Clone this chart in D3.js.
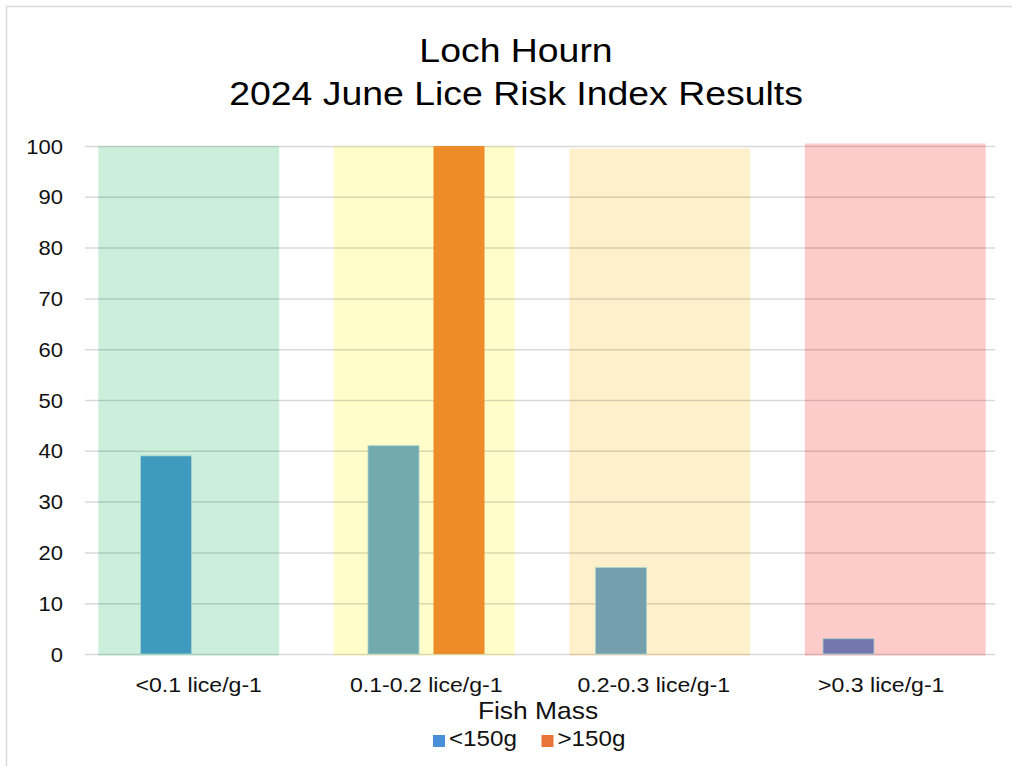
<!DOCTYPE html>
<html>
<head>
<meta charset="utf-8">
<script src="https://cdn.jsdelivr.net/npm/d3@7"></script>
<style>
  body { margin: 0; background: #fff; }
  svg { display: block; font-family: "Liberation Sans", Arial, sans-serif; }
</style>
</head>
<body>
<svg id="chart" width="1012" height="766"></svg>
<script>
const categories = ['<0.1 lice/g-1', '0.1-0.2 lice/g-1', '0.2-0.3 lice/g-1', '>0.3 lice/g-1'];
const seriesNames = ['<150g', '>150g'];
const under150 = [39, 41, 17, 3];
const over150 = [0, 100, 0, 0];
const bandValues = [100, 100, 99.5, 100.5];
const yTicks = [0, 10, 20, 30, 40, 50, 60, 70, 80, 90, 100];

const bandColors = ['#ccefdb', '#fffdca', '#fff0cc', '#fecbcb'];
const barColors = [['#3f9abd', '#ed8c28'], ['#72aaad', '#ed8c28'], ['#749fad', '#ed8c28'], ['#7477ad', '#ed8c28']];
const legendColors = ['#4a90d9', '#e9733a'];

const width = 1012, height = 766;
const margin = { top: 146, right: 17, bottom: 112, left: 85 };
const stretch = 1.1; // text in the source image is slightly wide
const svg = d3.select('#chart');

function label(g, x, y, size, anchor, txt, fill) {
  return g.append('text')
    .attr('transform', `translate(${x},${y}) scale(${stretch},1)`)
    .attr('text-anchor', anchor).attr('font-size', size).attr('fill', fill || '#111')
    .text(txt);
}

// outer frame
svg.append('rect').attr('x', 6.5).attr('y', 6.5).attr('width', width).attr('height', height)
  .attr('fill', 'none').attr('stroke', '#d9d9d9').attr('stroke-width', 1.5);

const x = d3.scaleBand().domain(categories).range([margin.left, width - margin.right]);
const y = d3.scaleLinear().domain([0, 100]).range([height - margin.bottom, margin.top]);
const inner = d3.scaleBand().domain(seriesNames).range([0, x.bandwidth()]).paddingInner(0.221).paddingOuter(0.847);
// background risk bands sit on their own, slightly wider, band scale
const xb = d3.scaleBand().domain(categories).range([71, 1013]).paddingInner(0.232).paddingOuter(0.116);

// risk bands
svg.append('g').selectAll('rect').data(categories).enter().append('rect')
  .attr('x', d => xb(d))
  .attr('y', (d, i) => y(bandValues[i]))
  .attr('width', xb.bandwidth())
  .attr('height', (d, i) => y(0) - y(bandValues[i]) + 1.5)
  .attr('fill', (d, i) => bandColors[i]);

// gridlines
svg.append('g').selectAll('line').data(yTicks).enter().append('line')
  .attr('x1', margin.left).attr('x2', width - margin.right)
  .attr('y1', d => y(d) + 0.5).attr('y2', d => y(d) + 0.5)
  .attr('stroke', '#000').attr('stroke-opacity', 0.15).attr('stroke-width', 1.5);

// bars
const rows = categories.map((c, i) => ({ cat: c, i, vals: [under150[i], over150[i]] }));
const groups = svg.append('g').selectAll('g').data(rows).enter().append('g')
  .attr('transform', d => `translate(${x(d.cat)},0)`);
groups.selectAll('rect')
  .data(d => d.vals.map((v, j) => ({ v, j, i: d.i })).filter(e => e.v > 0))
  .enter().append('rect')
  .attr('x', e => inner(seriesNames[e.j]))
  .attr('y', e => y(e.v))
  .attr('width', inner.bandwidth())
  .attr('height', e => y(0) - y(e.v))
  .attr('fill', e => barColors[e.i][e.j])
  .attr('stroke', e => e.j === 0 ? '#a9d4cf' : 'none')
  .attr('stroke-width', 0.8);

// y axis labels
const yl = svg.append('g');
yTicks.forEach(t => label(yl, 63, y(t) + 7.5, 20, 'end', t));

// x axis labels
const xl = svg.append('g');
categories.forEach(c => label(xl, x(c) + x.bandwidth() / 2, 692, 21, 'middle', c));

// axis title
label(svg, 538, 719, 24, 'middle', 'Fish Mass');

// title
label(svg, 516, 62, 34, 'middle', 'Loch Hourn', '#000');
label(svg, 516, 105, 34, 'middle', '2024 June Lice Risk Index Results', '#000');

// legend
const legend = svg.append('g').selectAll('g').data(seriesNames).enter().append('g')
  .attr('transform', (d, i) => `translate(${433 + i * 108.5},735)`);
legend.append('rect').attr('width', 12).attr('height', 12).attr('fill', (d, i) => legendColors[i]);
legend.each(function (d) { label(d3.select(this), 16, 11, 22, 'start', d); });
</script>
</body>
</html>
